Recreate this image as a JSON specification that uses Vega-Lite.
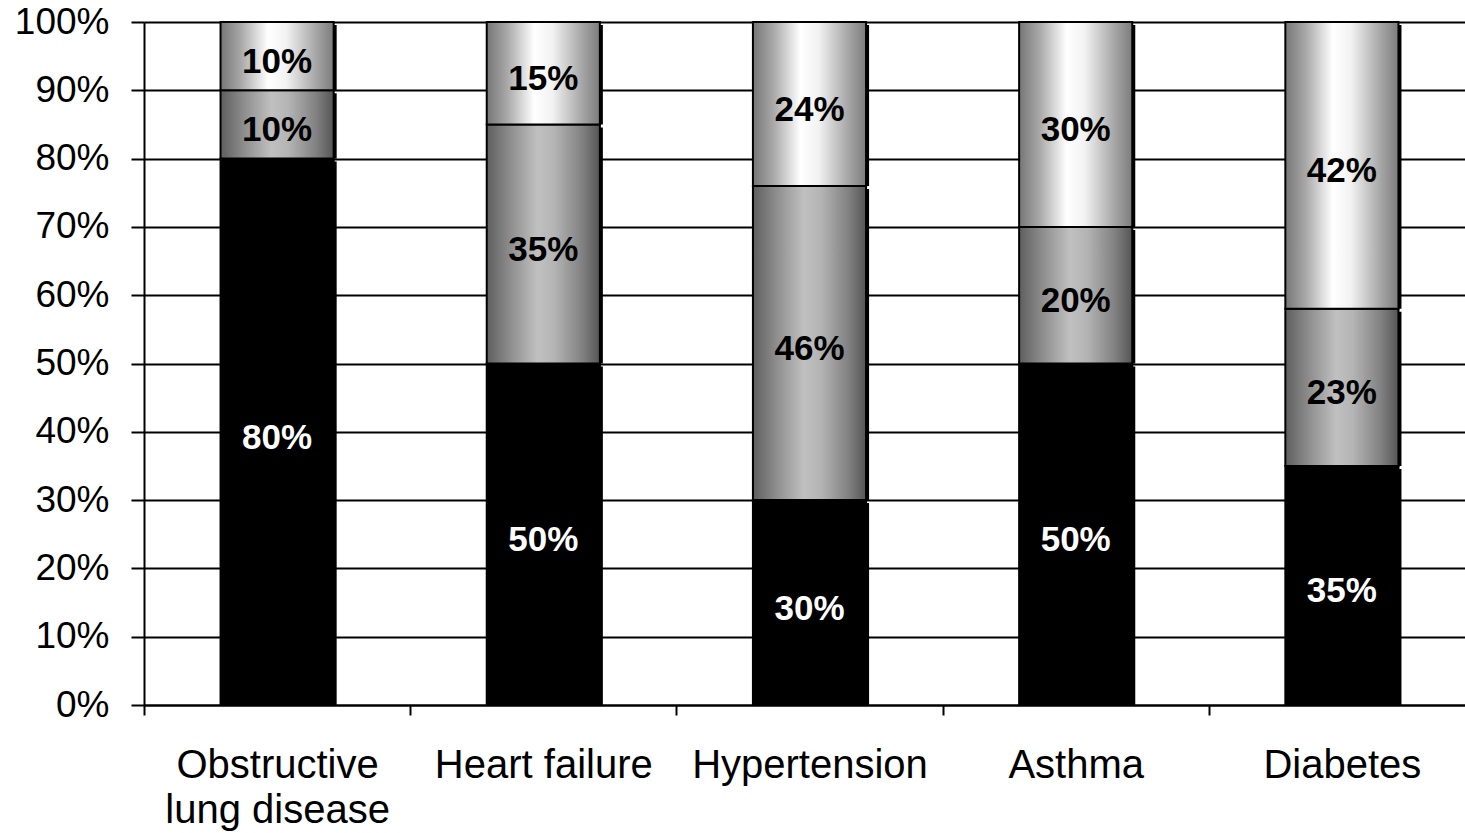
{
  "$schema": "https://vega.github.io/schema/vega-lite/v6.json",
  "autosize": "none",
  "width": 1331,
  "height": 683,
  "padding": {"left": 144, "top": 22, "right": 0, "bottom": 128},
  "background": "white",
  "config": {
    "view": {"stroke": null},
    "font": "Liberation Sans"
  },
  "data": {
    "values": [
      {"disease": "Obstructive lung disease", "segment": 1, "value": 80},
      {"disease": "Obstructive lung disease", "segment": 2, "value": 10},
      {"disease": "Obstructive lung disease", "segment": 3, "value": 10},
      {"disease": "Heart failure", "segment": 1, "value": 50},
      {"disease": "Heart failure", "segment": 2, "value": 35},
      {"disease": "Heart failure", "segment": 3, "value": 15},
      {"disease": "Hypertension", "segment": 1, "value": 30},
      {"disease": "Hypertension", "segment": 2, "value": 46},
      {"disease": "Hypertension", "segment": 3, "value": 24},
      {"disease": "Asthma", "segment": 1, "value": 50},
      {"disease": "Asthma", "segment": 2, "value": 20},
      {"disease": "Asthma", "segment": 3, "value": 30},
      {"disease": "Diabetes", "segment": 1, "value": 35},
      {"disease": "Diabetes", "segment": 2, "value": 23},
      {"disease": "Diabetes", "segment": 3, "value": 42}
    ]
  },
  "transform": [
    {"stack": "value", "groupby": ["disease"], "sort": [{"field": "segment", "order": "ascending"}], "as": ["y0", "y1"]},
    {"calculate": "(datum.y0 + datum.y1) / 2", "as": "mid"},
    {"calculate": "datum.value + '%'", "as": "label"}
  ],
  "encoding": {
    "x": {
      "field": "disease",
      "type": "nominal",
      "sort": null,
      "title": null,
      "scale": {"paddingInner": 0, "paddingOuter": 0},
      "axis": {
        "tickBand": "extent",
        "labelAngle": 0,
        "labelLimit": 0,
        "labelFont": "Liberation Sans",
        "labelFontSize": 40,
        "labelColor": "black",
        "labelPadding": 30,
        "labelLineHeight": 45,
        "labelBaseline": "top",
        "labelExpr": "datum.label == 'Obstructive lung disease' ? ['Obstructive', 'lung disease'] : datum.label",
        "domainColor": "black",
        "domainWidth": 2,
        "tickColor": "black",
        "tickWidth": 2,
        "tickSize": 10,
        "grid": false
      }
    }
  },
  "layer": [
    {
      "mark": {"type": "bar", "color": "black", "width": {"band": 0.425}, "xOffset": 3, "yOffset": 3, "clip": true},
      "encoding": {
        "y": {
          "field": "y1",
          "type": "quantitative",
          "title": null,
          "scale": {"domain": [0, 100], "nice": false},
          "axis": {
            "values": [0, 10, 20, 30, 40, 50, 60, 70, 80, 90, 100],
            "labelExpr": "datum.value + '%'",
            "labelFont": "Liberation Sans",
            "labelFontSize": 37,
            "labelColor": "black",
            "labelPadding": 22,
            "domainColor": "black",
            "domainWidth": 2,
            "tickColor": "black",
            "tickWidth": 2,
            "tickSize": 13,
            "grid": true,
            "gridColor": "black",
            "gridWidth": 2,
            "gridOpacity": 1
          }
        },
        "y2": {"field": "y0"}
      }
    },
    {
      "transform": [{"filter": "datum.segment == 1"}],
      "mark": {"type": "bar", "width": {"band": 0.425}, "color": "black", "stroke": "black", "strokeWidth": 2},
      "encoding": {
        "y": {"field": "y1", "type": "quantitative"},
        "y2": {"field": "y0"}
      }
    },
    {
      "transform": [{"filter": "datum.segment == 2"}],
      "mark": {
        "type": "bar",
        "width": {"band": 0.425},
        "stroke": "black",
        "strokeWidth": 2,
        "color": {
          "gradient": "linear",
          "x1": 0, "y1": 0, "x2": 1, "y2": 0,
          "stops": [
            {"offset": 0, "color": "#5e5e5e"},
            {"offset": 0.2, "color": "#8c8c8c"},
            {"offset": 0.45, "color": "#c0c0c0"},
            {"offset": 0.6, "color": "#b4b4b4"},
            {"offset": 0.85, "color": "#808080"},
            {"offset": 1, "color": "#555555"}
          ]
        }
      },
      "encoding": {
        "y": {"field": "y1", "type": "quantitative"},
        "y2": {"field": "y0"}
      }
    },
    {
      "transform": [{"filter": "datum.segment == 3"}],
      "mark": {
        "type": "bar",
        "width": {"band": 0.425},
        "stroke": "black",
        "strokeWidth": 2,
        "color": {
          "gradient": "linear",
          "x1": 0, "y1": 0, "x2": 1, "y2": 0,
          "stops": [
            {"offset": 0, "color": "#767676"},
            {"offset": 0.18, "color": "#a8a8a8"},
            {"offset": 0.42, "color": "#ffffff"},
            {"offset": 0.58, "color": "#f2f2f2"},
            {"offset": 0.85, "color": "#a4a4a4"},
            {"offset": 1, "color": "#7c7c7c"}
          ]
        }
      },
      "encoding": {
        "y": {"field": "y1", "type": "quantitative"},
        "y2": {"field": "y0"}
      }
    },
    {
      "mark": {"type": "text", "font": "Liberation Sans", "fontWeight": "bold", "fontSize": 35, "baseline": "middle", "align": "center", "dy": 6},
      "encoding": {
        "y": {"field": "mid", "type": "quantitative"},
        "text": {"field": "label", "type": "nominal"},
        "color": {"condition": {"test": "datum.segment == 1", "value": "white"}, "value": "black"}
      }
    }
  ]
}
